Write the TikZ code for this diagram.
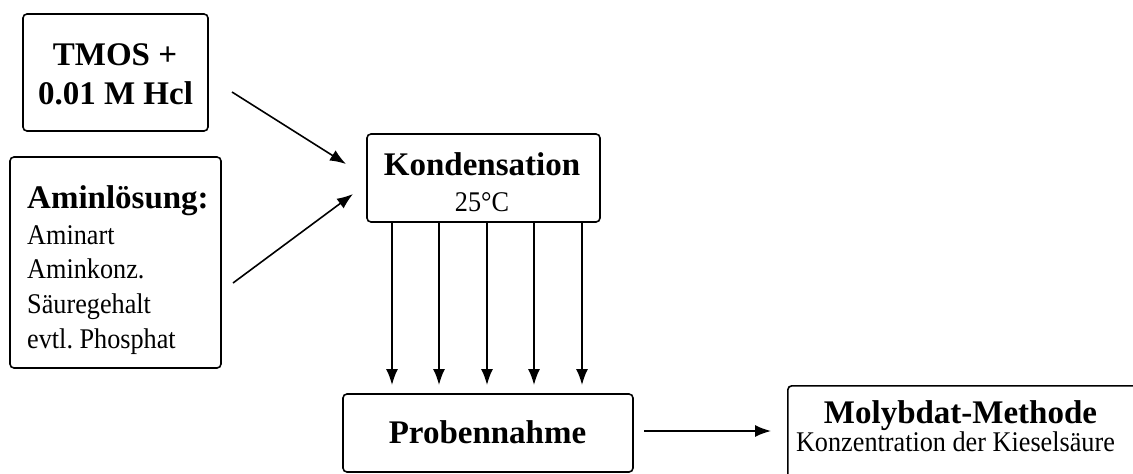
\documentclass[tikz,border=0pt]{standalone}
\usepackage{fontspec}
\setmainfont{Liberation Serif}
\newfontfamily\narrowserif[FakeStretch=0.92]{Liberation Serif}
\usetikzlibrary{arrows.meta}
\tikzset{
  box/.style={draw, line width=1.6pt, rounded corners=4pt, inner sep=0pt, fill=none},
  big/.style={inner sep=0pt, font=\fontsize{33}{40}\selectfont\bfseries},
  small/.style={inner sep=0pt, font=\narrowserif\fontsize{28.5}{34}\selectfont},
  arr/.style={line width=1.6pt, -{Latex[length=16pt,width=12pt]}},
}
\begin{document}
\frenchspacing
\begin{tikzpicture}[x=1pt,y=-1pt]
\useasboundingbox (0,0) rectangle (1133,474);
% boxes
\node[box, minimum width=185pt, minimum height=117pt] (tmos) at (115.5,72.5) {};
\node[box, minimum width=211pt, minimum height=211pt] (amin) at (115.5,262.5) {};
\node[box, minimum width=233pt, minimum height=88pt] (kond) at (483.5,178) {};
\node[box, minimum width=290pt, minimum height=78pt] (prob) at (488,433) {};
\node[box, minimum width=363pt, minimum height=115pt, anchor=north west] (moly) at (787,385) {};
% texts
\node[big, anchor=base] (t1) at (115,65) {TMOS +};
\node[big, anchor=base] (t2) at (115.5,104) {0.01 M Hcl};
\node[big, anchor=base west] (a0) at (27,208) {Aminlösung:};
\node[small, anchor=base west] (a1) at (27,244) {Aminart};
\node[small, anchor=base west] (a2) at (27,278) {Aminkonz.};
\node[small, anchor=base west] (a3) at (27,313) {Säuregehalt};
\node[small, anchor=base west] (a4) at (27,348) {evtl. Phosphat};
\node[big, anchor=base] (k1) at (482,175) {Kondensation};
\node[small, anchor=base] (k2) at (482,211) {25°C};
\node[big, anchor=base] (p1) at (487.5,443) {Probennahme};
\node[big, anchor=base] (m1) at (960.5,423) {Molybdat-Methode};
\node[small, anchor=base] (m2) at (955.5,451) {Konzentration der Kieselsäure};
% connector end points
\coordinate (s1) at (232,92);  \coordinate (e1) at (346,164);
\coordinate (s2) at (233,283); \coordinate (e2) at (353,194);
\coordinate (hs) at (644,431); \coordinate (he) at (771,431);
\draw[arr] (s1) -- (e1);
\draw[arr] (s2) -- (e2);
\foreach \i/\x in {1/392,2/439,3/487,4/534,5/582} {
  \coordinate (v\i s) at (\x,222);
  \coordinate (v\i e) at (\x,385);
  \draw[arr] (v\i s) -- (v\i e);
}
\draw[arr] (hs) -- (he);
\end{tikzpicture}
\end{document}
